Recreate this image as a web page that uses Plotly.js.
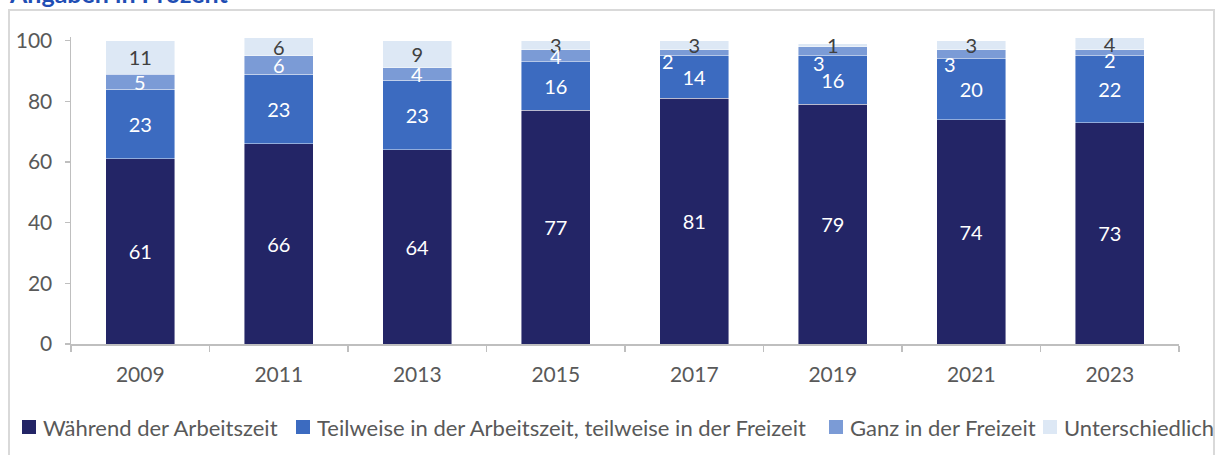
<!DOCTYPE html>
<html><head><meta charset="utf-8">
<script src="https://cdn.plot.ly/plotly-3.0.1.min.js"></script>
<style>
html,body{margin:0;padding:0;background:#fff;overflow:hidden;}
#frame{position:absolute;left:8px;top:9px;width:1207px;height:460px;border:2px solid #d9d9d9;box-sizing:border-box;}
#chart{position:absolute;left:0;top:0;width:1219px;height:455px;}
</style></head>
<body>
<div id="frame"></div>
<div id="chart"></div>
<script>
const years = ['2009','2011','2013','2015','2017','2019','2021','2023'];
const waehrend = [61,66,64,77,81,79,74,73];
const teilweise = [23,23,23,16,14,16,20,22];
const ganz = [5,6,4,4,2,3,3,2];
const unterschiedlich = [11,6,9,3,3,1,3,4];
const seriesNames = ['Während der Arbeitszeit','Teilweise in der Arbeitszeit, teilweise in der Freizeit','Ganz in der Freizeit','Unterschiedlich'];
const title = 'Angaben in Prozent';

const colors = ['#232566','#3c6bc0','#7b9bd6','#dde8f5'];
const textColors = ['#ffffff','#ffffff','#ffffff','#404040'];
const FONT = 'Lato, "Noto Sans", sans-serif';

// plot-area geometry (pixels) used to place the hand-made legend
const L = 71, R = 40, T = 37, B = 111, W = 1219, H = 455;
const PW = W - L - R, PH = H - T - B;
const px2x = p => (p - L) / PW;
const py2y = p => (H - B - p) / PH;

const series = [waehrend, teilweise, ganz, unterschiedlich];
const traces = series.map((vals, i) => ({
  type:'bar', x: years, y: vals, name: seriesNames[i],
  marker:{color: colors[i], line:{color:'rgba(255,255,255,0.55)', width:0.8}},
  text: i === 2 ? vals.map(()=> '') : vals.map(String),
  textposition: 'inside', insidetextanchor:'middle',
  constraintext:'none', textangle:0,
  textfont:{family:FONT, size:20, color:textColors[i]},
  hoverinfo:'skip', showlegend:false
}));

// Ganz labels as annotations (Excel nudged some of them)
const shiftX = [0,0,0,0,-26,-14,-21,0];
const shiftY = [0,0,0,0,-8,-12,-10,-7];
const annotations = ganz.map((v,k)=>({
  x: k, y: waehrend[k] + teilweise[k] + v/2, xref:'x', yref:'y',
  text: String(v), showarrow:false, xshift: shiftX[k], yshift: shiftY[k],
  font:{family:FONT, size:20, color:'#ffffff'}
}));
annotations.push({
  text:'<b>'+title+'</b>', xref:'paper', yref:'paper', x:px2x(7), y:py2y(-7),
  xanchor:'left', yanchor:'middle', showarrow:false,
  font:{family:FONT, size:25, color:'#1f4eb4'}
});

// legend drawn by hand (Excel style spacing)
const legSquareX = [22, 296, 829, 1043];
const legY = 427, sq = 14;
const shapes = [];
seriesNames.forEach((n,i)=>{
  shapes.push({type:'rect', xref:'paper', yref:'paper',
    x0:px2x(legSquareX[i]), x1:px2x(legSquareX[i]+sq),
    y0:py2y(legY+sq/2), y1:py2y(legY-sq/2),
    fillcolor:colors[i], line:{width:0}});
  annotations.push({text:n, xref:'paper', yref:'paper',
    x:px2x(legSquareX[i]+sq+5), y:py2y(legY), xanchor:'left', yanchor:'middle',
    showarrow:false, font:{family:FONT, size:22, color:'#595959'}});
});

const layout = {
  width:W, height:H,
  margin:{l:L, r:R, t:T, b:B},
  paper_bgcolor:'rgba(0,0,0,0)', plot_bgcolor:'rgba(0,0,0,0)',
  barmode:'stack', bargap:0.5,
  font:{family:FONT, color:'#595959', size:20},
  showlegend:false,
  xaxis:{type:'category', showline:true, linecolor:'#bfbfbf', linewidth:1.5,
    ticks:'outside', tickson:'boundaries', ticklen:6, tickcolor:'#bfbfbf', tickwidth:1.5,
    ticklabelstandoff:11,
    tickfont:{family:FONT, size:21, color:'#595959'}, showgrid:false, zeroline:false, tickangle:0},
  yaxis:{range:[0,101.2], tickvals:[0,20,40,60,80,100], showline:true, linecolor:'#bfbfbf', linewidth:1.5,
    ticks:'outside', ticklen:5, tickcolor:'#bfbfbf', tickwidth:1.5, ticklabelstandoff:8,
    tickfont:{family:FONT, size:21, color:'#595959'}, showgrid:false, zeroline:false},
  shapes: shapes,
  annotations: annotations
};
Plotly.newPlot('chart', traces, layout, {displayModeBar:false, staticPlot:true});
</script>
</body></html>
